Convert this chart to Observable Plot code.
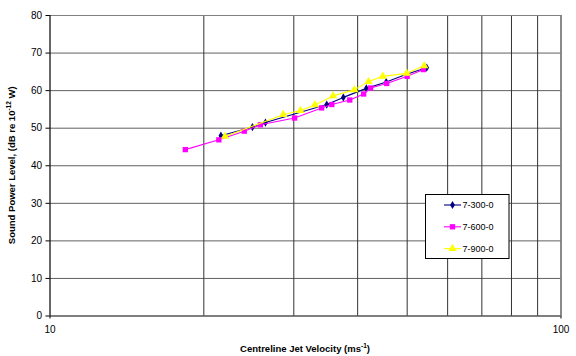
<!DOCTYPE html>
<html>
<head>
<meta charset="utf-8">
<script src="https://cdn.jsdelivr.net/npm/d3@7"></script>
<script src="https://cdn.jsdelivr.net/npm/@observablehq/plot@0.6"></script>
<style>
  html, body { margin: 0; padding: 0; background: #fff; }
  #chart svg { display: block; font-family: "Liberation Sans", Arial, sans-serif; }
</style>
</head>
<body>
<div id="chart"></div>
<script>
// Series names
const seriesNames = ["7-300-0", "7-600-0", "7-900-0"];

// Centreline jet velocity (m/s) and sound power level (dB re 1e-12 W) per series
const v300 = [21.6, 24.9, 26.4, 34.8, 37.5, 41.6, 45.5, 50.0, 54.6];
const L300 = [48.0, 50.3, 51.5, 56.3, 58.2, 60.6, 62.3, 64.4, 66.1];

const v600 = [18.4, 21.4, 24.0, 25.8, 30.1, 34.0, 35.6, 38.6, 41.1, 42.4, 45.6, 50.0, 53.8];
const L600 = [44.3, 46.9, 49.2, 50.9, 52.7, 55.4, 56.3, 57.5, 59.1, 60.7, 61.9, 63.8, 65.6];

const v900 = [22.0, 28.6, 30.9, 33.0, 35.8, 39.4, 42.0, 44.8, 49.9, 54.0];
const L900 = [47.8, 53.6, 54.7, 56.2, 58.6, 60.2, 62.4, 63.8, 64.6, 66.6];

// Axis ticks and grid positions
const yTicks = [0, 10, 20, 30, 40, 50, 60, 70, 80];
const xTicks = [10, 100];
const xGrid = [20, 30, 40, 50, 60, 70, 80, 90, 100];

const styles = {
  "7-300-0": {color: "#000080", symbol: "diamond", r: 2.5},
  "7-600-0": {color: "#FF00FF", symbol: "square", r: 3.0},
  "7-900-0": {color: "#FFFF00", symbol: "triangle", r: 3.1}
};

const toRows = (name, vs, Ls) => vs.map((v, i) => ({series: name, v, L: Ls[i]}));
const rows = {
  "7-300-0": toRows("7-300-0", v300, L300),
  "7-600-0": toRows("7-600-0", v600, L600),
  "7-900-0": toRows("7-900-0", v900, L900)
};

const W = 576, H = 356;
const mL = 49.5, mR = 15.5, mT = 15, mB = 40.5;

const seriesMarks = seriesNames.flatMap(name => {
  const s = styles[name];
  return [
    Plot.line(rows[name], {x: "v", y: "L", stroke: s.color, strokeWidth: 1.1}),
    Plot.dot(rows[name], {x: "v", y: "L", symbol: () => s.symbol, r: s.r, fill: s.color, stroke: "none"})
  ];
});

const chart = Plot.plot({
  width: W,
  height: H,
  marginLeft: mL,
  marginRight: mR,
  marginTop: mT,
  marginBottom: mB,
  style: {fontFamily: "Liberation Sans, Arial, sans-serif", fontSize: "10px", color: "#000", background: "#fff"},
  x: {type: "log", domain: [10, 100]},
  y: {domain: [0, 80]},
  marks: [
    // horizontal grid
    Plot.ruleY(yTicks.slice(1), {stroke: "#606060", strokeWidth: 1}),
    // vertical grid
    Plot.ruleX(xGrid, {stroke: "#333", strokeWidth: 1}),
    // plot area border (top/right)
    Plot.ruleY([80], {stroke: "#808080", strokeWidth: 1.2}),
    Plot.ruleX([100], {stroke: "#808080", strokeWidth: 1.2}),
    // axes
    Plot.ruleX([10], {stroke: "#000", strokeWidth: 1.2}),
    Plot.ruleY([0], {stroke: "#000", strokeWidth: 1.2}),
    Plot.axisY({ticks: yTicks, tickSize: 4, tickPadding: 4, label: null, fontSize: 10}),
    Plot.axisX({ticks: xTicks, tickSize: 3, tickPadding: 7, label: null, fontSize: 10, tickFormat: d => String(d)}),
    ...seriesMarks
  ]
});

document.getElementById("chart").appendChild(chart);

const svg = d3.select(chart);

// Axis titles with superscripts
const xt = svg.append("text")
  .attr("x", mL + (W - mL - mR) / 2)
  .attr("y", 352)
  .attr("text-anchor", "middle")
  .attr("font-weight", "bold")
  .attr("font-size", 9.5)
  .attr("fill", "#000");
xt.append("tspan").text("Centreline Jet Velocity (ms");
xt.append("tspan").attr("dy", -4).attr("font-size", 6.5).text("-1");
xt.append("tspan").attr("dy", 4).text(")");

const yt = svg.append("text")
  .attr("transform", `translate(15,${mT + (H - mT - mB) / 2}) rotate(-90)`)
  .attr("text-anchor", "middle")
  .attr("font-weight", "bold")
  .attr("font-size", 9.5)
  .attr("fill", "#000");
yt.append("tspan").text("Sound Power Level, (dB re 10");
yt.append("tspan").attr("dy", -4).attr("font-size", 6.5).text("-12");
yt.append("tspan").attr("dy", 4).text(" W)");

// Legend box
const lg = svg.append("g").attr("transform", "translate(425.5,194.5)");
lg.append("rect").attr("width", 83.5).attr("height", 64)
  .attr("fill", "#fff").attr("stroke", "#000").attr("stroke-width", 1);
const symbolType = {diamond: d3.symbolDiamond, square: d3.symbolSquare, triangle: d3.symbolTriangle};
seriesNames.forEach((name, i) => {
  const s = styles[name];
  const y = 10.5 + i * 21.8;
  const g = lg.append("g").attr("transform", `translate(0,${y})`);
  g.append("line").attr("x1", 18.5).attr("x2", 35.5).attr("y1", 0).attr("y2", 0)
    .attr("stroke", s.color).attr("stroke-width", 1.1);
  g.append("path")
    .attr("transform", "translate(27,0)")
    .attr("d", d3.symbol(symbolType[s.symbol], Math.PI * s.r * s.r)())
    .attr("fill", s.color);
  g.append("text").attr("x", 37).attr("y", 0).attr("dy", "0.35em")
    .attr("text-anchor", "start")
    .attr("font-size", 9).attr("fill", "#000").text(name);
});
</script>
</body>
</html>
